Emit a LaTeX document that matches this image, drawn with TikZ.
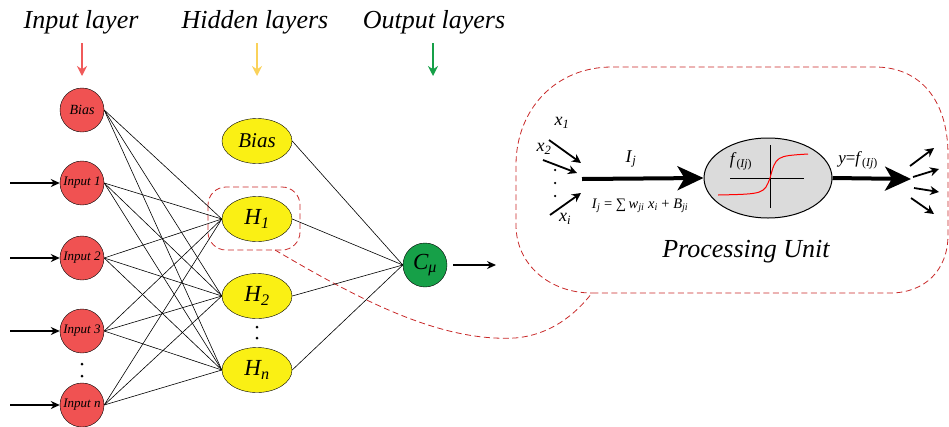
\documentclass[tikz,border=0pt]{standalone}
\usepackage{fontspec}
\setmainfont{Liberation Serif}[ItalicFont={Liberation Serif Italic}]
\usetikzlibrary{shapes.geometric,arrows.meta}
\definecolor{inred}{RGB}{240,82,82}
\definecolor{hyel}{RGB}{250,240,20}
\definecolor{ogreen}{RGB}{22,160,72}
\definecolor{ared}{RGB}{240,90,90}
\definecolor{ayel}{RGB}{250,210,90}
\definecolor{dred}{RGB}{200,40,40}
\tikzset{
  inode/.style={circle, draw, fill=inred, minimum size=44pt, inner sep=0pt, font=\fontsize{13}{14}\selectfont\itshape},
  hnode/.style={ellipse, draw, fill=hyel, minimum width=70pt, minimum height=45pt, inner sep=0pt, font=\fontsize{23}{26}\selectfont\itshape},
  onode/.style={circle, draw, fill=ogreen, minimum size=44pt, inner sep=0pt, font=\fontsize{23}{26}\selectfont\itshape},
  title/.style={font=\fontsize{26}{30}\selectfont\itshape},
  wire/.style={line width=0.6pt},
  inarrow/.style={line width=1.4pt, -{Stealth[length=9pt,width=8pt]}},
  headarrow/.style={line width=2pt, -{Stealth[length=10pt,width=10pt]}},
  callout/.style={draw=dred, line width=0.8pt, dash pattern=on 6pt off 3.5pt},
  thickarrow/.style={line width=4pt, -{Stealth[length=26pt,width=24pt,inset=7pt]}},
  smallarrow/.style={line width=1.8pt, -{Stealth[length=9pt,width=9pt]}},
  lbl/.style={font=\fontsize{18}{20}\selectfont},
  dotc/.style={circle, fill=black, inner sep=0pt, minimum size=3pt}
}
\begin{document}
\begin{tikzpicture}[x=1pt,y=-1pt]
\useasboundingbox (0,0) rectangle (949,426);
% titles
\node[title] (t1) at (81,22) {Input layer};
\node[title] (t2) at (255,22) {Hidden layers};
\node[title] (t3) at (434,22) {Output layers};
\coordinate (a1s) at (82,43); \coordinate (a1e) at (82,76);
\coordinate (a2s) at (257,43); \coordinate (a2e) at (257,76);
\coordinate (a3s) at (433,43); \coordinate (a3e) at (433,76);
\draw[headarrow, ared] (a1s) -- (a1e);
\draw[headarrow, ayel] (a2s) -- (a2e);
\draw[headarrow, ogreen] (a3s) -- (a3e);

% callout (behind)
\draw[callout] (275,250) .. controls (360,300) and (440,342) .. (515,338)
  .. controls (550,335) and (575,315) .. (592,293)
  -- (890,293) .. controls (925,293) and (948,270) .. (948,235)
  -- (948,155) .. controls (948,100) and (920,67) .. (875,67)
  -- (612,67) .. controls (555,67) and (516,110) .. (516,165)
  -- (516,225) .. controls (516,265) and (550,293) .. (592,293);
\draw[callout, rounded corners=18pt] (208,187) rectangle (300,250);

% input layer
\node[inode, font=\fontsize{14}{15}\selectfont\itshape] (b0) at (82,110) {Bias};
\node[inode] (i1) at (82,183) {Input 1};
\node[inode] (i2) at (82,258) {Input 2};
\node[inode] (i3) at (82,331) {Input 3};
\node[inode] (in) at (82,405) {Input n};
\node[dotc] (d1) at (82,364) {};
\node[dotc] (d2) at (82,376) {};

% hidden layer
\node[hnode, font=\fontsize{21}{24}\selectfont\itshape] (hb) at (257,141) {Bias};
\node[hnode] (h1) at (257,219) {H\textsubscript{1}};
\node[hnode] (h2) at (257,296) {H\textsubscript{2}};
\node[hnode] (hn) at (257,370) {H\textsubscript{n}};
\node[dotc] (d3) at (257,327) {};
\node[dotc] (d4) at (257,338) {};

% output
\node[onode] (c) at (425,265) {C\textsubscript{μ}};
\coordinate (cend) at (496,265);
\draw[line width=1.4pt, -{Stealth[length=9pt,width=8pt]}] ([xshift=6pt]c.east) -- (cend);

% input arrows
\foreach \n in {i1,i2,i3,in}{
  \coordinate (s\n) at (10,0 |- \n.west);
  \draw[inarrow] (s\n) -- (\n.west);
}
% connections input -> hidden
\foreach \a in {b0,i1,i2,i3,in}{
  \foreach \b in {h1,h2,hn}{
    \draw[wire] (\a.east) -- (\b.west);
  }
}
\foreach \b in {hb,h1,h2,hn}{
  \draw[wire] (\b.east) -- (c.west);
}

% processing unit
\node[lbl] (x1) at (562,123) {\textit{x}\textsubscript{\textit{1}}};
\node[lbl] (x2) at (544,149) {\textit{x}\textsubscript{\textit{2}}};
\node[lbl] (xi) at (565,219) {\textit{x}\textsubscript{\textit{i}}};
\coordinate (p1s) at (549,140); \coordinate (p1e) at (581,163);
\coordinate (p2s) at (543,160); \coordinate (p2e) at (577,173);
\coordinate (p3s) at (550,215); \coordinate (p3e) at (581,193);
\draw[smallarrow] (p1s) -- (p1e);
\draw[smallarrow] (p2s) -- (p2e);
\draw[smallarrow] (p3s) -- (p3e);
\node[dotc, minimum size=2.5pt] (d5) at (555,170) {};
\node[dotc, minimum size=2.5pt] (d6) at (555,183) {};
\node[dotc, minimum size=2.5pt] (d7) at (555,196) {};
\coordinate (sumpt) at (582,179);
\node[ellipse, draw, line width=1pt, fill=gray!28, minimum width=128pt, minimum height=80pt, inner sep=0pt] (pu) at (768,178) {};
\draw[thickarrow] (sumpt) -- (pu.west);
\node[lbl] (ij) at (631,159) {\textit{I}\textsubscript{\textit{j}}};
\node[font=\fontsize{14.5}{16}\selectfont] (form) at (640,206) {\textit{I}\textsubscript{\textit{j}} = ∑\,\textit{w}\textsubscript{\textit{ji}} \textit{x}\textsubscript{\textit{i}} + \textit{B}\textsubscript{\textit{ji}}};
\coordinate (ax1) at (730,178); \coordinate (ax2) at (804,178);
\coordinate (ay1) at (770,145); \coordinate (ay2) at (770,208);
\draw[line width=1pt] (ax1) -- (ax2);
\draw[line width=1pt] (ay1) -- (ay2);
\draw[red, line width=1pt] (718,195) .. controls (764,194) .. (770,178) .. controls (776,156) .. (808,154);
\node[font=\fontsize{17}{19}\selectfont] (fl) at (741,161) {\textit{f}\textsubscript{(\textit{Ij})}};
\node[font=\fontsize{17}{19}\selectfont] (yl) at (858,160) {\textit{y}=\textit{f}\textsubscript{(\textit{Ij})}};
\coordinate (outend) at (911,179);
\draw[thickarrow] (pu.east) -- (outend);
\coordinate (o1s) at (910,166); \coordinate (o1e) at (934,148);
\coordinate (o2s) at (913,177); \coordinate (o2e) at (939,169);
\coordinate (o3s) at (914,188); \coordinate (o3e) at (939,192);
\coordinate (o4s) at (911,198); \coordinate (o4e) at (934,214);
\draw[smallarrow] (o1s) -- (o1e);
\draw[smallarrow] (o2s) -- (o2e);
\draw[smallarrow] (o3s) -- (o3e);
\draw[smallarrow] (o4s) -- (o4e);
\node[font=\fontsize{26}{30}\selectfont\itshape] (pul) at (746,252) {Processing Unit};
\end{tikzpicture}
\end{document}
